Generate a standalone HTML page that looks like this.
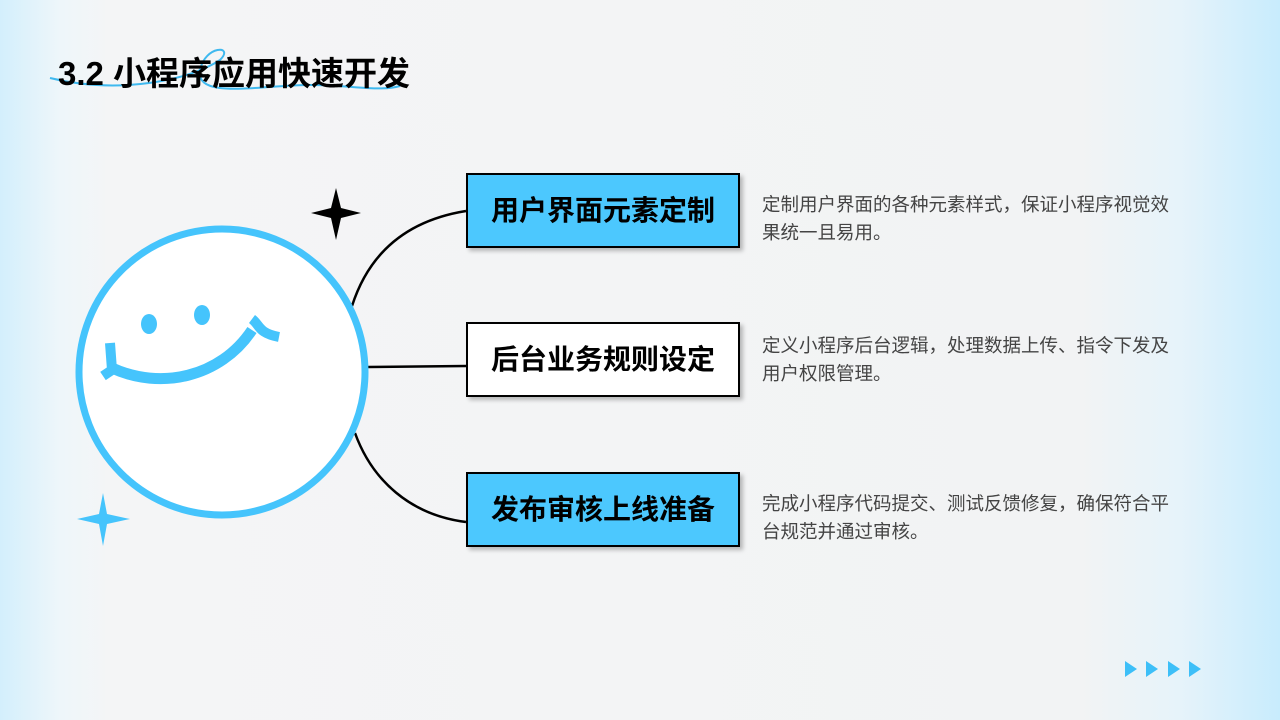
<!DOCTYPE html>
<html><head><meta charset="utf-8"><style>
html,body{margin:0;padding:0}
body{width:1280px;height:720px;position:relative;overflow:hidden;font-family:"Liberation Sans","Noto Sans CJK SC",sans-serif;
background:linear-gradient(90deg,#d3effc 0px,#eef6fa 60px,#f4f5f6 110px,#f2f3f4 1080px,#e6f3fa 1180px,#c8ecfd 1280px);}
.box{position:absolute;left:466px;width:270px;height:71px;border:2.5px solid #000;box-shadow:3px 3px 4px rgba(0,0,0,.25);
font-weight:bold;font-size:28px;line-height:71px;text-align:center;color:#000;box-sizing:content-box}
.blue{background:#4cc8fe}.white{background:#fff}
.desc{position:absolute;left:762px;width:418px;font-size:18.5px;line-height:28px;color:#444}
.title{position:absolute;left:58px;top:47px;font-size:33px;font-weight:bold;color:#000}
</style></head><body>
<svg width="1280" height="720" style="position:absolute;left:0;top:0">
<path d="M50 78 C120 95 190 80 220 60 C235 45 205 45 200 70 C195 100 260 85 310 85 C350 85 380 92 400 86" fill="none" stroke="#3fb9ef" stroke-width="2"/>
<path d="M352 306 C370 250 410 220 466 211" fill="none" stroke="#000" stroke-width="2.5"/>
<path d="M368 367 L466 366" fill="none" stroke="#000" stroke-width="2.5"/>
<path d="M355 433 C372 480 410 515 466 522" fill="none" stroke="#000" stroke-width="2.5"/>
<circle cx="222" cy="372" r="143" fill="#fff" stroke="#45c4fc" stroke-width="7"/>
<ellipse cx="149" cy="324" rx="8" ry="10" fill="#45c4fc"/>
<ellipse cx="202" cy="315" rx="8" ry="10" fill="#45c4fc"/>
<path d="M112 368 C160 390 220 378 252 330" fill="none" stroke="#45c4fc" stroke-width="11"/>
<path d="M110 343 L112 370 L103 376" fill="none" stroke="#45c4fc" stroke-width="10"/>
<path d="M252 319 C260 325 258 333 279 337" fill="none" stroke="#45c4fc" stroke-width="10"/>
<path d="M336 188 L341 208 L361 213 L341 218 L336 240 L331 218 L311 213 L331 208 Z" fill="#000"/>
<path d="M103 493 L107 514 L130 519 L107 524 L103 546 L99 524 L77 519 L99 514 Z" fill="#45c4fc"/>
<g fill="#3dbff8">
<path d="M1125 661 L1137 669 L1125 677Z"/><path d="M1146 661 L1158 669 L1146 677Z"/>
<path d="M1168 661 L1180 669 L1168 677Z"/><path d="M1189 661 L1201 669 L1189 677Z"/>
</g>
</svg>
<div class="title">3.2 小程序应用快速开发</div>
<div class="box blue" style="top:173px">用户界面元素定制</div>
<div class="box white" style="top:322px">后台业务规则设定</div>
<div class="box blue" style="top:472px">发布审核上线准备</div>
<div class="desc" style="top:191px">定制用户界面的各种元素样式，保证小程序视觉效果统一且易用。</div>
<div class="desc" style="top:332px">定义小程序后台逻辑，处理数据上传、指令下发及用户权限管理。</div>
<div class="desc" style="top:490px">完成小程序代码提交、测试反馈修复，确保符合平台规范并通过审核。</div>
</body></html>
